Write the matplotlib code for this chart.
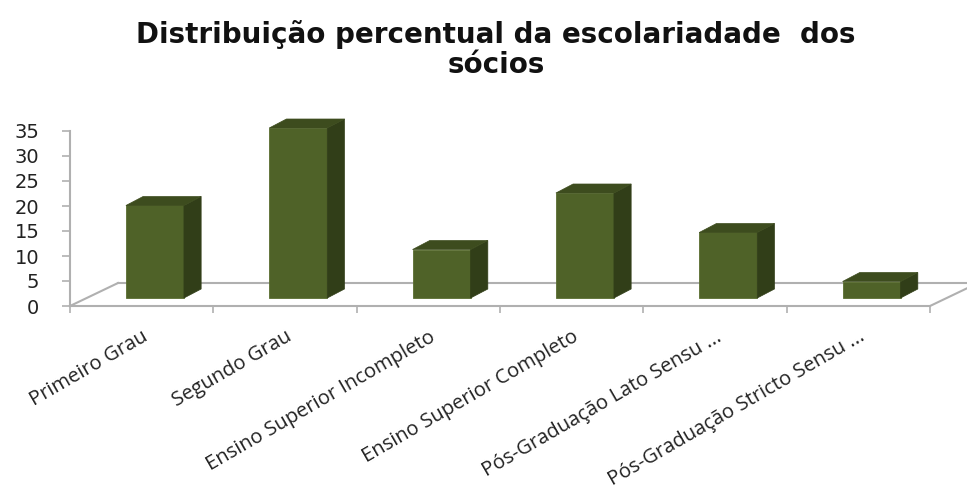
import matplotlib
matplotlib.use("Agg")
import matplotlib.pyplot as plt
from matplotlib.patches import Polygon

# Escolaridade dos sócios (%)
categories = [
    "Primeiro Grau",
    "Segundo Grau",
    "Ensino Superior Incompleto",
    "Ensino Superior Completo",
    "Pós-Graduação Lato Sensu ...",
    "Pós-Graduação Stricto Sensu ...",
]
values = [18.5, 34.0, 9.7, 21.0, 13.1, 3.3]
y_ticks = [0, 5, 10, 15, 20, 25, 30, 35]

title = "Distribuição percentual da escolariadade  dos\nsócios"

front_col = "#4f6228"
side_col = "#313e18"
top_col = "#3d4c1e"
grid_col = "#b0b0b0"

fig = plt.figure(figsize=(9.67, 4.95), dpi=100)
ax = fig.add_axes([70 / 967, 1 - 306 / 495, 860 / 967, 175 / 495])
ax.set_xlim(0, len(categories))
ax.set_ylim(0, 35)
for s in ax.spines.values():
    s.set_visible(False)

# floor (oblique 3D look)
depth_x, depth_y = 0.335, 4.6
n = len(categories)
ax.plot([0, n], [0, 0], color=grid_col, lw=1.5, clip_on=False, zorder=1)
ax.plot([0, depth_x], [0, depth_y], color=grid_col, lw=1.5, clip_on=False, zorder=1)
ax.plot([n, n + depth_x], [0, depth_y], color=grid_col, lw=1.5, clip_on=False, zorder=1)
ax.plot([depth_x, n + depth_x], [depth_y, depth_y], color=grid_col, lw=1.5,
        clip_on=False, zorder=1)

# y axis line
ax.plot([0, 0], [0, 35], color=grid_col, lw=1.5, clip_on=False, zorder=1)

# bars
lift = 1.6
offset = 0.39
width = 0.405
side_x, side_y = 0.12, 1.8
lefts = [i + offset for i in range(n)]
ax.bar(lefts, values, width=width, bottom=lift, align="edge", color=front_col,
       edgecolor="#5a6e30", linewidth=0.6, zorder=3, clip_on=False)
for left, v in zip(lefts, values):
    top = lift + v
    side = Polygon([(left + width, lift), (left + width + side_x, lift + side_y),
                    (left + width + side_x, top + side_y), (left + width, top)],
                   closed=True, facecolor=side_col, edgecolor=side_col, lw=0.5,
                   zorder=3, clip_on=False)
    cap = Polygon([(left, top), (left + width, top),
                   (left + width + side_x, top + side_y), (left + side_x, top + side_y)],
                  closed=True, facecolor=top_col, edgecolor=top_col, lw=0.5,
                  zorder=3, clip_on=False)
    ax.add_patch(side)
    ax.add_patch(cap)

# ticks
ax.set_yticks(y_ticks)
ax.tick_params(axis="y", length=6, width=1.2, color=grid_col, pad=16,
               labelsize=14, labelcolor="#222222")
ax.set_xticks(range(n + 1), minor=True)
ax.tick_params(axis="x", which="minor", length=5, width=1.2, color=grid_col)
ax.set_xticks([i + 0.5 for i in range(n)])
ax.set_xticklabels(categories, rotation=30, ha="right", rotation_mode="anchor",
                   fontsize=14.5, family="Open Sans", color="#222222")
ax.tick_params(axis="x", which="major", length=0, pad=15)

fig.text(0.513, 1 - 20 / 495, title, ha="center", va="top", fontsize=20,
         fontweight="bold", color="#111111", linespacing=1.1)

fig.savefig("out.png", dpi=100)
